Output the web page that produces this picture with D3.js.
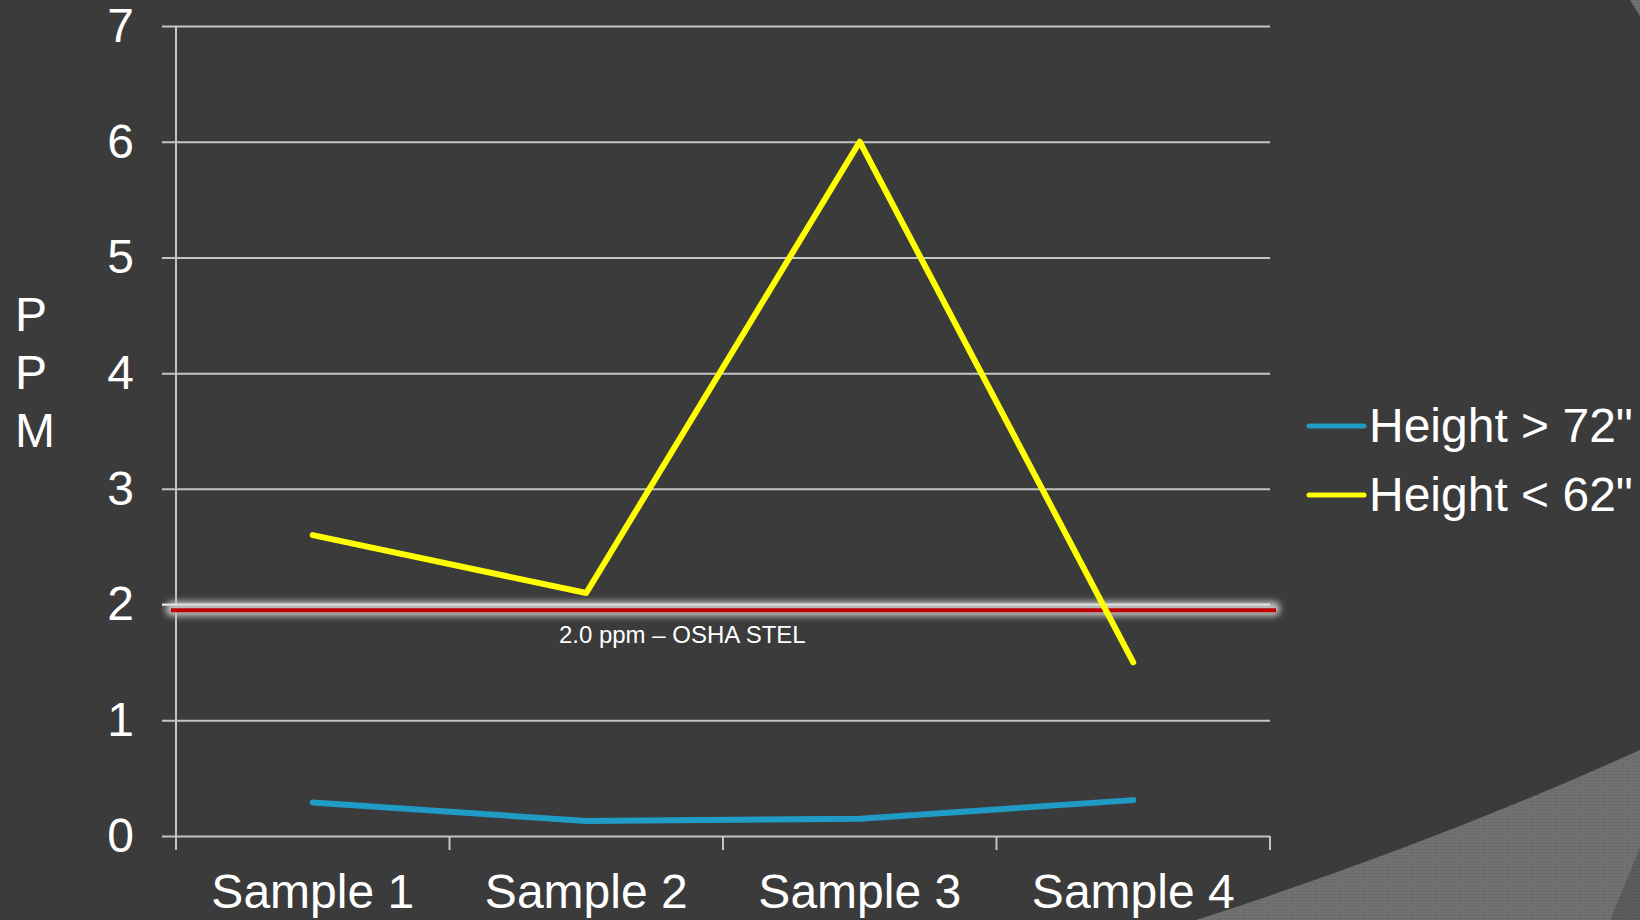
<!DOCTYPE html>
<html>
<head>
<meta charset="utf-8">
<script src="https://cdn.jsdelivr.net/npm/d3@7"></script>
<style>
  html, body { margin: 0; padding: 0; background: #3b3b3b; }
  svg { display: block; font-family: "Liberation Sans", Arial, sans-serif; }
</style>
</head>
<body>
<div id="chart"></div>
<script>
// chart data
var samples = ["Sample 1", "Sample 2", "Sample 3", "Sample 4"];
var tallValues = [0.29, 0.13, 0.15, 0.31];   // Height > 72"
var shortValues = [2.6, 2.1, 6.0, 1.5];      // Height < 62"
var seriesNames = ["Height > 72\"", "Height < 62\""];
var seriesColors = ["#1f9bc6", "#ffff00"];
var yTicks = [0, 1, 2, 3, 4, 5, 6, 7];
var stelValue = 1.95;
var stelLabel = "2.0 ppm \u2013 OSHA STEL";
var axisLetters = ["P", "P", "M"];

var W = 1640, H = 920;
var margin = {top: 26, left: 176, right: 370, bottom: 84},
    width = W - margin.left - margin.right,
    height = H - margin.top - margin.bottom;

var svg = d3.select("#chart")
    .append("svg")
        .attr("width", W)
        .attr("height", H);

var defs = svg.append("defs");

var pat = defs.append("pattern")
    .attr("id", "dots")
    .attr("width", 3).attr("height", 3)
    .attr("patternUnits", "userSpaceOnUse");
pat.append("rect").attr("width", 3).attr("height", 3).attr("fill", "#717171");
pat.append("rect").attr("width", 1).attr("height", 1).attr("fill", "#5f5f5f");

var patDark = defs.append("pattern")
    .attr("id", "dotsDark")
    .attr("width", 3).attr("height", 3)
    .attr("patternUnits", "userSpaceOnUse");
patDark.append("rect").attr("width", 3).attr("height", 3).attr("fill", "#5c5c5c");
patDark.append("rect").attr("width", 1).attr("height", 1).attr("fill", "#4e4e4e");

defs.append("filter")
    .attr("id", "glow")
    .attr("x", "-5%").attr("y", "-100%")
    .attr("width", "110%").attr("height", "300%")
  .append("feGaussianBlur")
    .attr("stdDeviation", 3);

// background
svg.append("rect").attr("width", W).attr("height", H).attr("fill", "#3b3b3b");

// decoration, bottom right
svg.append("path")
    .attr("d", "M1196,920 Q1430,845 1640,750 L1640,920 Z")
    .attr("fill", "url(#dots)");
svg.append("path")
    .attr("d", "M1610,920 L1640,848 L1640,920 Z")
    .attr("fill", "url(#dotsDark)");
svg.append("path")
    .attr("d", "M1630,0 L1640,0 L1640,16 Z")
    .attr("fill", "url(#dots)");

var g = svg.append("g")
    .attr("transform", "translate(" + margin.left + "," + margin.top + ")");

var x = d3.scaleBand()
    .domain(samples)
    .range([0, width]);

var y = d3.scaleLinear()
    .domain([0, 7])
    .range([height, 0]);

// gridlines + y labels
var yAxis = g.append("g")
    .attr("class", "y-axis")
    .call(d3.axisLeft(y).tickValues(yTicks).tickSize(-width - 14).tickPadding(28).tickFormat(d3.format("d")))
    .attr("transform", "translate(-14,0)");
yAxis.select(".domain").remove();
yAxis.selectAll(".tick line")
    .attr("stroke", "#c4c4c4")
    .attr("stroke-width", 2);
yAxis.selectAll(".tick text")
    .attr("fill", "#ffffff")
    .attr("font-size", 48)
    .attr("font-family", "Liberation Sans, Arial, sans-serif");

// vertical axis line
g.append("line")
    .attr("x1", 0).attr("x2", 0)
    .attr("y1", 0).attr("y2", height + 14)
    .attr("stroke", "#c4c4c4")
    .attr("stroke-width", 2);

// x axis
var xAxis = g.append("g")
    .attr("class", "x-axis")
    .attr("transform", "translate(0," + height + ")")
    .call(d3.axisBottom(x).tickSize(0).tickPadding(38));
xAxis.select(".domain").remove();
xAxis.selectAll(".tick text")
    .attr("fill", "#ffffff")
    .attr("font-size", 48)
    .attr("font-family", "Liberation Sans, Arial, sans-serif");

// category boundary ticks
var bounds = samples.map(function(s) { return x(s); }).concat([width]);
g.selectAll(".btick")
    .data(bounds)
  .enter().append("line")
    .attr("class", "btick")
    .attr("x1", function(d) { return d; })
    .attr("x2", function(d) { return d; })
    .attr("y1", height).attr("y2", height + 14)
    .attr("stroke", "#c4c4c4")
    .attr("stroke-width", 2);

// STEL line with glow (rect so the blur filter has a real bbox)
g.append("rect")
    .attr("x", -10).attr("width", width + 20)
    .attr("y", y(stelValue) - 9).attr("height", 15)
    .attr("rx", 6)
    .attr("fill", "#bdbdbd")
    .attr("filter", "url(#glow)");
g.append("line")
    .attr("x1", -14).attr("x2", width)
    .attr("y1", y(2)).attr("y2", y(2))
    .attr("stroke", "#e0e0e0")
    .attr("stroke-width", 2);
g.append("line")
    .attr("x1", -5).attr("x2", width + 6)
    .attr("y1", y(stelValue)).attr("y2", y(stelValue))
    .attr("stroke", "#c00000")
    .attr("stroke-width", 4);

g.append("text")
    .attr("x", x(samples[1]) + x.bandwidth() * 0.4)
    .attr("y", y(stelValue) + 33)
    .attr("text-anchor", "start")
    .attr("fill", "#ffffff")
    .attr("font-size", 24)
    .text(stelLabel);

// series lines
var line = d3.line()
    .x(function(d, i) { return x(samples[i]) + x.bandwidth() / 2; })
    .y(function(d) { return y(d); });

[tallValues, shortValues].forEach(function(vals, k) {
    g.append("path")
        .datum(vals)
        .attr("fill", "none")
        .attr("stroke", seriesColors[k])
        .attr("stroke-width", 6)
        .attr("stroke-linejoin", "round")
        .attr("stroke-linecap", "round")
        .attr("d", line);
});

// y axis title, stacked letters
svg.selectAll(".ylab")
    .data(axisLetters)
  .enter().append("text")
    .attr("class", "ylab")
    .attr("x", 15)
    .attr("y", function(d, i) { return 331 + i * 58; })
    .attr("fill", "#ffffff")
    .attr("font-size", 48)
    .text(function(d) { return d; });

// legend
var legend = svg.selectAll(".legend")
    .data(seriesNames)
  .enter().append("g")
    .attr("class", "legend")
    .attr("transform", function(d, i) { return "translate(1309," + (426 + i * 69) + ")"; });
legend.append("line")
    .attr("x1", 0).attr("x2", 55)
    .attr("stroke", function(d, i) { return seriesColors[i]; })
    .attr("stroke-width", 5)
    .attr("stroke-linecap", "round");
legend.append("text")
    .attr("x", 60)
    .attr("y", 16)
    .attr("fill", "#ffffff")
    .attr("font-size", 48)
    .text(function(d) { return d; });
</script>
</body>
</html>
